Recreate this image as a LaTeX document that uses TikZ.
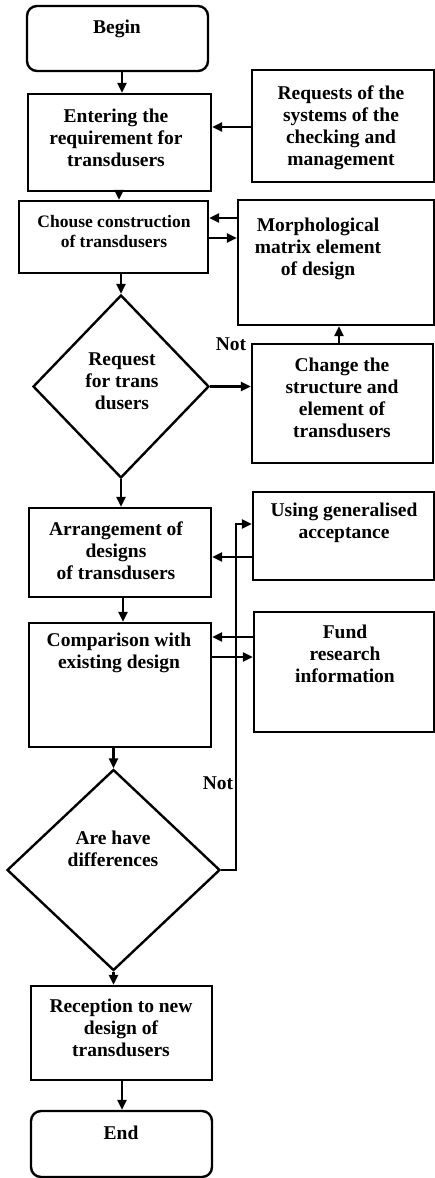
\documentclass[tikz,border=0pt]{standalone}
\usepackage{fontspec}
\setmainfont{Liberation Serif}
\usetikzlibrary{shapes.geometric,arrows.meta}
\begin{document}
\begin{tikzpicture}[x=1pt,y=-1pt,
  box/.style={draw,line width=2.4pt,inner sep=0pt},
  rbox/.style={box,rounded corners=10pt},
  dia/.style={draw,diamond,line width=2.4pt,inner sep=0pt},
  txt/.style={font=\fontsize{19.5}{22}\selectfont\bfseries,align=center,inner sep=0pt},
  arr/.style={line width=2.4pt,-{Triangle[length=10pt,width=9pt]}}]
\path[use as bounding box] (0,0) rectangle (435,1178);
% nodes
\node[rbox,minimum width=181pt,minimum height=65pt] (begin) at (117.5,38.5) {};
\node[txt] (begint) at (117,29) {Begin};
\node[box,minimum width=183pt,minimum height=97pt] (ent) at (119.5,142.5) {};
\node[txt] (entt) at (116,137.5) {Entering the\\requirement for\\transdusers};
\node[box,minimum width=182pt,minimum height=112pt] (req) at (343,126) {};
\node[txt] (reqt) at (341,128) {Requests of the\\systems of the\\checking and\\management};
\node[box,minimum width=189pt,minimum height=72pt] (ch) at (113.5,237) {};
\node[txt,font=\fontsize{17.5}{20}\selectfont\bfseries] (cht) at (114,232) {Chouse construction\\of transdusers};
\node[box,minimum width=196pt,minimum height=125pt] (mor) at (336,262.5) {};
\node[txt] (mort) at (318,249) {Morphological\\matrix element\\of design};
\node[dia,minimum width=176pt,minimum height=183pt] (d1) at (121,386.5) {};
\node[txt] (d1t) at (122,381) {Request\\for trans\\dusers};
\node[txt] (not1) at (231,344) {Not};
\node[box,minimum width=181pt,minimum height=119pt] (chg) at (342.5,403.5) {};
\node[txt] (chgt) at (342,398) {Change the\\structure and\\element of\\transdusers};
\node[box,minimum width=182pt,minimum height=89pt] (arg) at (120,552.5) {};
\node[txt] (argt) at (116,551) {Arrangement of\\designs\\of transdusers};
\node[box,minimum width=181pt,minimum height=88pt] (use) at (343.5,536) {};
\node[txt] (uset) at (344,523) {Using generalised\\acceptance};
\node[box,minimum width=182pt,minimum height=124pt] (cmp) at (120,685) {};
\node[txt] (cmpt) at (119,653) {Comparison with\\existing design};
\node[box,minimum width=180pt,minimum height=120pt] (fund) at (344,672) {};
\node[txt] (fundt) at (345,654) {Fund\\research\\information};
\node[dia,minimum width=213pt,minimum height=201pt] (d2) at (113.5,870) {};
\node[txt] (d2t) at (113,849) {Are have\\differences};
\node[txt] (not2) at (218,783) {Not};
\node[box,minimum width=181pt,minimum height=94pt] (rec) at (121.5,1033) {};
\node[txt] (rect) at (121,1028) {Reception to new\\design of\\transdusers};
\node[rbox,minimum width=181pt,minimum height=66pt] (end) at (121.5,1144) {};
\node[txt] (endt) at (121,1133) {End};
\coordinate (fb) at (236,524);
% connectors
\draw[arr] (begin.south -| 122,0) -- (ent.north -| 122,0);
\draw[arr] (req.west |- 0,127) -- (ent.east |- 0,127);
\draw[arr] (ent.south -| 119,0) -- (ch.north -| 119,0);
\draw[arr] (mor.west |- 0,218) -- (ch.east |- 0,218);
\draw[arr] (ch.east |- 0,238) -- (mor.west |- 0,238);
\draw[arr] (ch.south -| d1.north) -- (d1.north);
\draw[arr] (d1.east) -- (chg.west |- d1.east);
\draw[arr] (chg.north -| 339,0) -- (mor.south -| 339,0);
\draw[arr] (d1.south) -- (arg.north -| d1.south);
\draw[arr] (use.west |- 0,557) -- (arg.east |- 0,557);
\draw[arr] (d2.east) -| (fb) -- (use.west |- fb);
\draw[arr] (arg.south -| 123,0) -- (cmp.north -| 123,0);
\draw[arr] (fund.west |- 0,637) -- (cmp.east |- 0,637);
\draw[arr] (cmp.east |- 0,657) -- (fund.west |- 0,657);
\draw[arr] (cmp.south -| d2.north) -- (d2.north);
\draw[arr] (d2.south) -- (rec.north -| d2.south);
\draw[arr] (rec.south -| 122,0) -- (end.north -| 122,0);
\end{tikzpicture}
\end{document}
